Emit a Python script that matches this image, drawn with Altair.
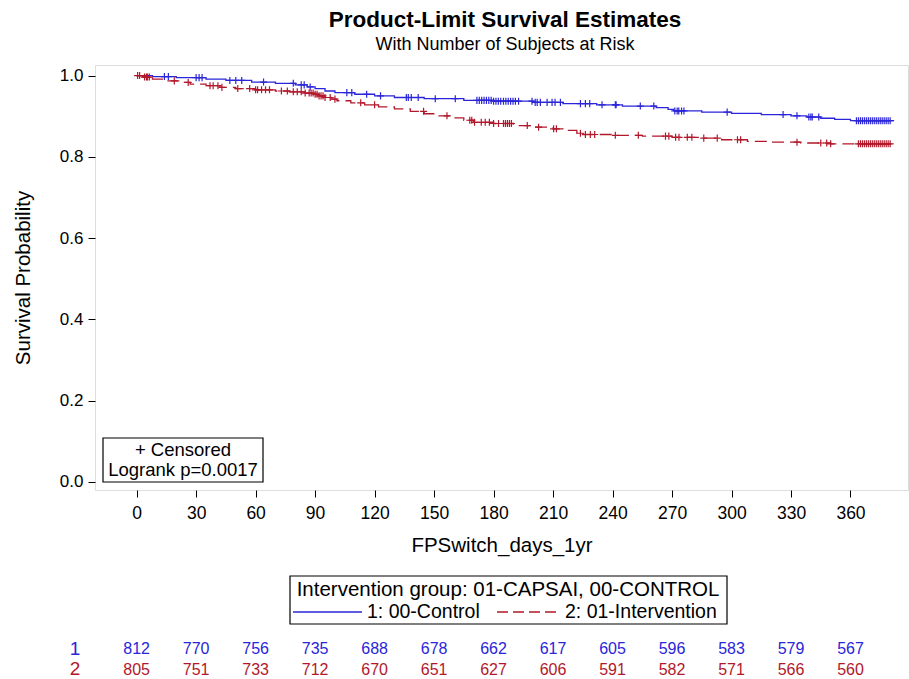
import altair as alt
import pandas as pd

# ---- data ----
blue_t = [0, 8, 20, 35, 45, 58, 70, 80, 86, 90, 95, 100, 110, 120, 130, 145, 165, 180, 200, 215, 232, 245, 262, 268, 271, 285, 300, 315, 330, 338, 345, 352, 360]
blue_s = [1.0, 0.9975, 0.995, 0.991, 0.988, 0.984, 0.981, 0.977, 0.972, 0.968, 0.962, 0.958, 0.954, 0.950, 0.946, 0.943, 0.939, 0.937, 0.934, 0.931, 0.928, 0.925, 0.921, 0.917, 0.913, 0.910, 0.907, 0.904, 0.901, 0.898, 0.895, 0.892, 0.889]
red_t = [0, 3, 8, 15, 22, 27, 35, 42, 50, 60, 70, 77, 85, 90, 92, 95, 98, 101, 108, 115, 122, 130, 138, 145, 152, 158, 165, 170, 180, 190, 200, 210, 215, 222, 225, 240, 255, 270, 285, 295, 308, 320, 335, 350]
red_s = [1.0, 0.9963, 0.991, 0.987, 0.983, 0.979, 0.975, 0.971, 0.968, 0.965, 0.962, 0.960, 0.957, 0.954, 0.950, 0.946, 0.942, 0.938, 0.933, 0.928, 0.923, 0.918, 0.912, 0.906, 0.901, 0.896, 0.890, 0.885, 0.882, 0.877, 0.873, 0.869, 0.865, 0.858, 0.855, 0.853, 0.851, 0.848, 0.846, 0.842, 0.838, 0.836, 0.834, 0.832]
end_time = 382

blue_cens = [14, 16, 30, 31.5, 33, 47, 50, 53, 64, 79, 83, 84.5, 87.5, 106, 108.5, 116, 123, 136, 137, 138.5, 142, 150.6, 160.7,
             171.6, 172.8, 174, 175.2, 176.4, 177.6, 178.8, 180, 181.2, 182.4, 183.6, 185, 186.2, 187.4, 188.6, 189.8, 191, 192.6,
             199.4, 201, 202, 203.6, 207, 209.5, 211, 213.7, 223.8, 226.3, 228.5, 234.7, 241.4, 241.8, 254, 260.8,
             271.4, 272.6, 273.4, 274.8, 276, 297.8, 326, 333, 339, 340, 340.7, 344,
             363, 364, 365, 366, 367, 368, 369, 370, 371, 372, 373, 374, 375, 376, 377, 378, 379, 380]
red_cens = [0.5, 1.5, 4, 5, 5.5, 6.4, 19, 26, 37, 38.6, 41, 43, 51, 57, 60, 61, 63, 65, 67, 73, 76, 79, 81, 83, 85, 87,
            88, 89, 90, 91, 92, 93, 94, 95, 97.6, 100, 113, 120, 144.7, 156.5, 168, 169, 170.4, 173.8, 175.8, 177.9, 180,
            182.5, 185, 186, 187, 188, 189, 197, 202.7, 210.3, 211.7, 223.8, 226.3, 228.8, 231, 241.4, 253,
            266.7, 268.4, 271.8, 273.5, 277.7, 280, 286, 292.8, 303, 304.6, 333, 345, 348, 350,
            364, 365, 366, 367, 368, 369, 370, 371, 372, 373, 374, 375, 376, 377, 378, 379, 380]

risk_t = [0, 30, 60, 90, 120, 150, 180, 210, 240, 270, 300, 330, 360]
risk_1 = [812, 770, 756, 735, 688, 678, 662, 617, 605, 596, 583, 579, 567]
risk_2 = [805, 751, 733, 712, 670, 651, 627, 606, 591, 582, 571, 566, 560]

BLUE = "#2A25D9"
RED = "#B2182B"
FONT = "Liberation Sans"

# plot area placement in the page
L, T, W, H = 95, 65, 813, 425


def step_frame(ts, ss, group):
    rows = [{"t": t, "s": s, "g": group} for t, s in zip(ts, ss)]
    rows.append({"t": end_time, "s": ss[-1], "g": group})
    return pd.DataFrame(rows)


def cens_frame(cs, ts, ss, group):
    rows = []
    for c in cs:
        val = ss[0]
        for t, s in zip(ts, ss):
            if t <= c:
                val = s
        rows.append({"t": c, "s": val, "g": group})
    return pd.DataFrame(rows)


xs = alt.Scale(domain=[-21, 389], nice=False, zero=False)
ys = alt.Scale(domain=[-0.02, 1.026], nice=False, zero=False)

xax = alt.Axis(values=risk_t, labelFontSize=17.5, labelFont=FONT, tickSize=7, tickColor="black",
               labelColor="black", domain=False, grid=False, labelPadding=7,
               title="FPSwitch_days_1yr", titleFontSize=20.5, titleFont=FONT, titleFontWeight="normal",
               titlePadding=14, titleColor="black")
yax = alt.Axis(values=[0, 0.2, 0.4, 0.6, 0.8, 1.0], format=".1f", labelFontSize=17, labelFont=FONT,
               tickSize=7, tickColor="black", labelColor="black", domain=False, grid=False, labelPadding=5,
               title="Survival Probability", titleFontSize=20.5, titleFont=FONT, titleFontWeight="normal",
               titlePadding=26, titleColor="black")

blue_line = alt.Chart(step_frame(blue_t, blue_s, "1")).mark_line(
    interpolate="step-after", color=BLUE, strokeWidth=1.3).encode(
    x=alt.X("t:Q", scale=xs, axis=xax), y=alt.Y("s:Q", scale=ys, axis=yax))
red_line = alt.Chart(step_frame(red_t, red_s, "2")).mark_line(
    interpolate="step-after", color=RED, strokeWidth=1.3, strokeDash=[12, 6]).encode(
    x=alt.X("t:Q", scale=xs), y=alt.Y("s:Q", scale=ys))

plus = "M-1,0L1,0M0,-1L0,1"
blue_c = alt.Chart(cens_frame(blue_cens, blue_t, blue_s, "1")).mark_point(
    shape=plus, size=50, filled=False, color=BLUE, strokeWidth=1.2, opacity=1).encode(
    x=alt.X("t:Q", scale=xs), y=alt.Y("s:Q", scale=ys))
red_c = alt.Chart(cens_frame(red_cens, red_t, red_s, "2")).mark_point(
    shape=plus, size=50, filled=False, color=RED, strokeWidth=1.2, opacity=1).encode(
    x=alt.X("t:Q", scale=xs), y=alt.Y("s:Q", scale=ys))

# at-risk table
risk_df = pd.DataFrame({"t": risk_t + risk_t,
                        "n": risk_1 + risk_2,
                        "g": ["1"] * len(risk_t) + ["2"] * len(risk_t)})
risk1 = alt.Chart(risk_df[risk_df.g == "1"]).mark_text(fontSize=16, font=FONT, color=BLUE).encode(
    x=alt.X("t:Q", scale=xs), y=alt.value(649 - T), text="n:Q")
risk2 = alt.Chart(risk_df[risk_df.g == "2"]).mark_text(fontSize=16, font=FONT, color=RED).encode(
    x=alt.X("t:Q", scale=xs), y=alt.value(670 - T), text="n:Q")


def txt(label, px, py, size, color="black", weight="normal", align="center"):
    return alt.Chart(pd.DataFrame({"l": [label]})).mark_text(
        fontSize=size, font=FONT, color=color, fontWeight=weight, align=align, baseline="middle").encode(
        x=alt.value(px - L), y=alt.value(py - T), text="l:N")


def box(x1, y1, x2, y2):
    return alt.Chart(pd.DataFrame({"a": [0]})).mark_rect(
        fill="white", stroke="black", strokeWidth=1.2).encode(
        x=alt.value(x1 - L), x2=alt.value(x2 - L), y=alt.value(y1 - T), y2=alt.value(y2 - T))


def seg(x1, x2, y, color, dash=None):
    kw = dict(color=color, strokeWidth=1.3)
    if dash:
        kw["strokeDash"] = dash
    return alt.Chart(pd.DataFrame({"a": [0]})).mark_rule(**kw).encode(
        x=alt.value(x1 - L), x2=alt.value(x2 - L), y=alt.value(y - T))


layers = [
    blue_line, red_line, blue_c, red_c,
    box(103, 438, 263, 482),
    txt("+ Censored", 183, 450, 18.5),
    txt("Logrank p=0.0017", 183, 470, 18.5),
    txt("Product-Limit Survival Estimates", 505, 20, 22.5, weight="bold"),
    txt("With Number of Subjects at Risk", 505, 45, 18),
    box(290, 576, 727, 624),
    txt("Intervention group: 01-CAPSAI, 00-CONTROL", 508, 590, 20.5),
    seg(293, 362, 612, BLUE),
    txt("1: 00-Control", 367, 612, 19.5, align="left"),
    seg(497, 561, 612, RED, [11, 5]),
    txt("2: 01-Intervention", 565, 612, 19.5, align="left"),
    txt("1", 75, 649, 19, color=BLUE),
    txt("2", 75, 669, 19, color=RED),
    risk1, risk2,
]

chart = alt.layer(*layers).properties(
    width=W, height=H,
    autosize=alt.AutoSizeParams(type="none"),
    padding={"left": L, "top": T, "right": 909 - L - W, "bottom": 679 - T - H},
).configure_view(stroke="black", strokeWidth=1.2).configure(background="white")

chart.save("out.html", embed_options={"renderer": "svg", "actions": False})
